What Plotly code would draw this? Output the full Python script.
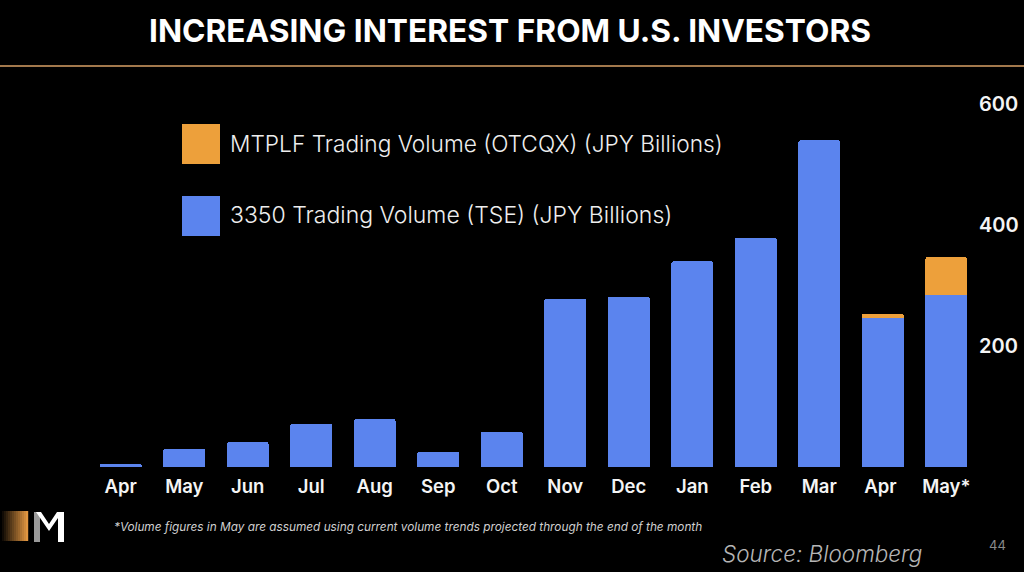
import plotly.graph_objects as go

months = ["Apr","May","Jun","Jul","Aug","Sep","Oct","Nov","Dec","Jan","Feb","Mar","Apr ","May*"]
tse_volume = [5,30,41,71,79,25,58,278,281,340,379,540,246,284]
otc_volume = [0,0,0,0,0,0,0,0,0,0,0,0,7,63]
y_ticks = [200,400,600]
title = "INCREASING INTEREST FROM U.S. INVESTORS"
otc_name = "MTPLF Trading Volume (OTCQX) (JPY Billions)"
tse_name = "3350 Trading Volume (TSE) (JPY Billions)"
footnote = "*Volume figures in May are assumed using current volume trends projected through the end of the month"
source = "Source: Bloomberg"
page = "44"

BLUE = "#5B84EE"
ORANGE = "#EDA03B"
W, H = 1024, 572
L, R, T, B = 89, 46, 92, 105

def px(x): return (x - L) / (W - L - R)
def py(y): return (H - B - y) / (H - T - B)

fig = go.Figure()
fig.add_bar(x=months, y=tse_volume, name=tse_name, marker_color=BLUE, marker_line_width=0, width=0.66)
fig.add_bar(x=months, y=otc_volume, name=otc_name, marker_color=ORANGE, marker_line_width=0, width=0.66)

shapes = [dict(type="line", xref="paper", yref="paper", x0=px(0), x1=px(W), y0=py(66), y1=py(66),
               line=dict(color="#D9A066", width=1.5)),
          dict(type="rect", xref="paper", yref="paper", x0=px(182), x1=px(220), y0=py(124), y1=py(164),
               fillcolor=ORANGE, line_width=0),
          dict(type="rect", xref="paper", yref="paper", x0=px(182), x1=px(220), y0=py(196), y1=py(236),
               fillcolor=BLUE, line_width=0)]
# logo gradient block
for i in range(14):
    t = i / 13
    c = f"rgb({int(225*t)},{int(150*t)},{int(65*t)})"
    shapes.append(dict(type="rect", xref="paper", yref="paper", x0=px(i*2), x1=px(i*2+2.2), y0=py(511), y1=py(541),
                       fillcolor=c, line_width=0))
# logo M
def p(points):
    return "M " + " L ".join(f"{px(a):.5f} {py(b):.5f}" for a, b in points) + " Z"
shapes.append(dict(type="path", xref="paper", yref="paper", path=p([(34,512),(40,512),(40,542),(34,542)]),
                   fillcolor="#9a9a9a", line_width=0))
shapes.append(dict(type="path", xref="paper", yref="paper",
                   path=p([(36,512),(49,531),(58,518),(58,542),(64,542),(64,512),(57,512),(49,524),(41,512)]),
                   fillcolor="#ffffff", line_width=0))

def note(text, x, y, size, color="#fff", anchor="left", weight=None, style=None, family="Inter"):
    return dict(text=text, xref="paper", yref="paper", x=px(x), y=py(y), showarrow=False, xanchor=anchor,
                yanchor="middle", font=dict(size=size, color=color, family=family, weight=weight, style=style))

annotations = [
    note(title, 510, 31, 31.7, anchor="center", weight=700),
    note(otc_name, 228, 143, 22.7, color="#eeeeee", weight=300),
    note(tse_name, 228, 215, 23, color="#eeeeee", weight=300),
    note(footnote, 112, 527, 11.8, color="#d0d0d0", style="italic"),
    note(source, 720, 553, 22.5, color="#b5b5b5", style="italic", weight=300),
    note(page, 997, 545, 13, color="#8a8a8a", anchor="center"),
]

fig.update_layout(
    width=W, height=H, barmode="stack", barcornerradius=2, showlegend=False,
    paper_bgcolor="#000", plot_bgcolor="#000",
    margin=dict(l=L, r=R, t=T, b=B, autoexpand=False),
    shapes=shapes, annotations=annotations,
    font=dict(family="Inter", color="#fff"),
    xaxis=dict(type="category", categoryorder="array", categoryarray=months, range=[-0.5,13.5], showgrid=False,
               zeroline=False, showline=False, ticks="", ticklabelstandoff=6,
               tickfont=dict(size=18.5, weight=600, color="#f4f4f4")),
    yaxis=dict(side="right", range=[0,620], tickvals=y_ticks, showgrid=False, zeroline=False, showline=False,
               ticks="", tickfont=dict(size=20, weight=600, color="#f4f4f4")),
)
fig.write_html("out.html", config=dict(displayModeBar=False),
               post_script="document.body.style.margin='0';document.body.style.background='#000';document.documentElement.style.overflow='hidden';")
